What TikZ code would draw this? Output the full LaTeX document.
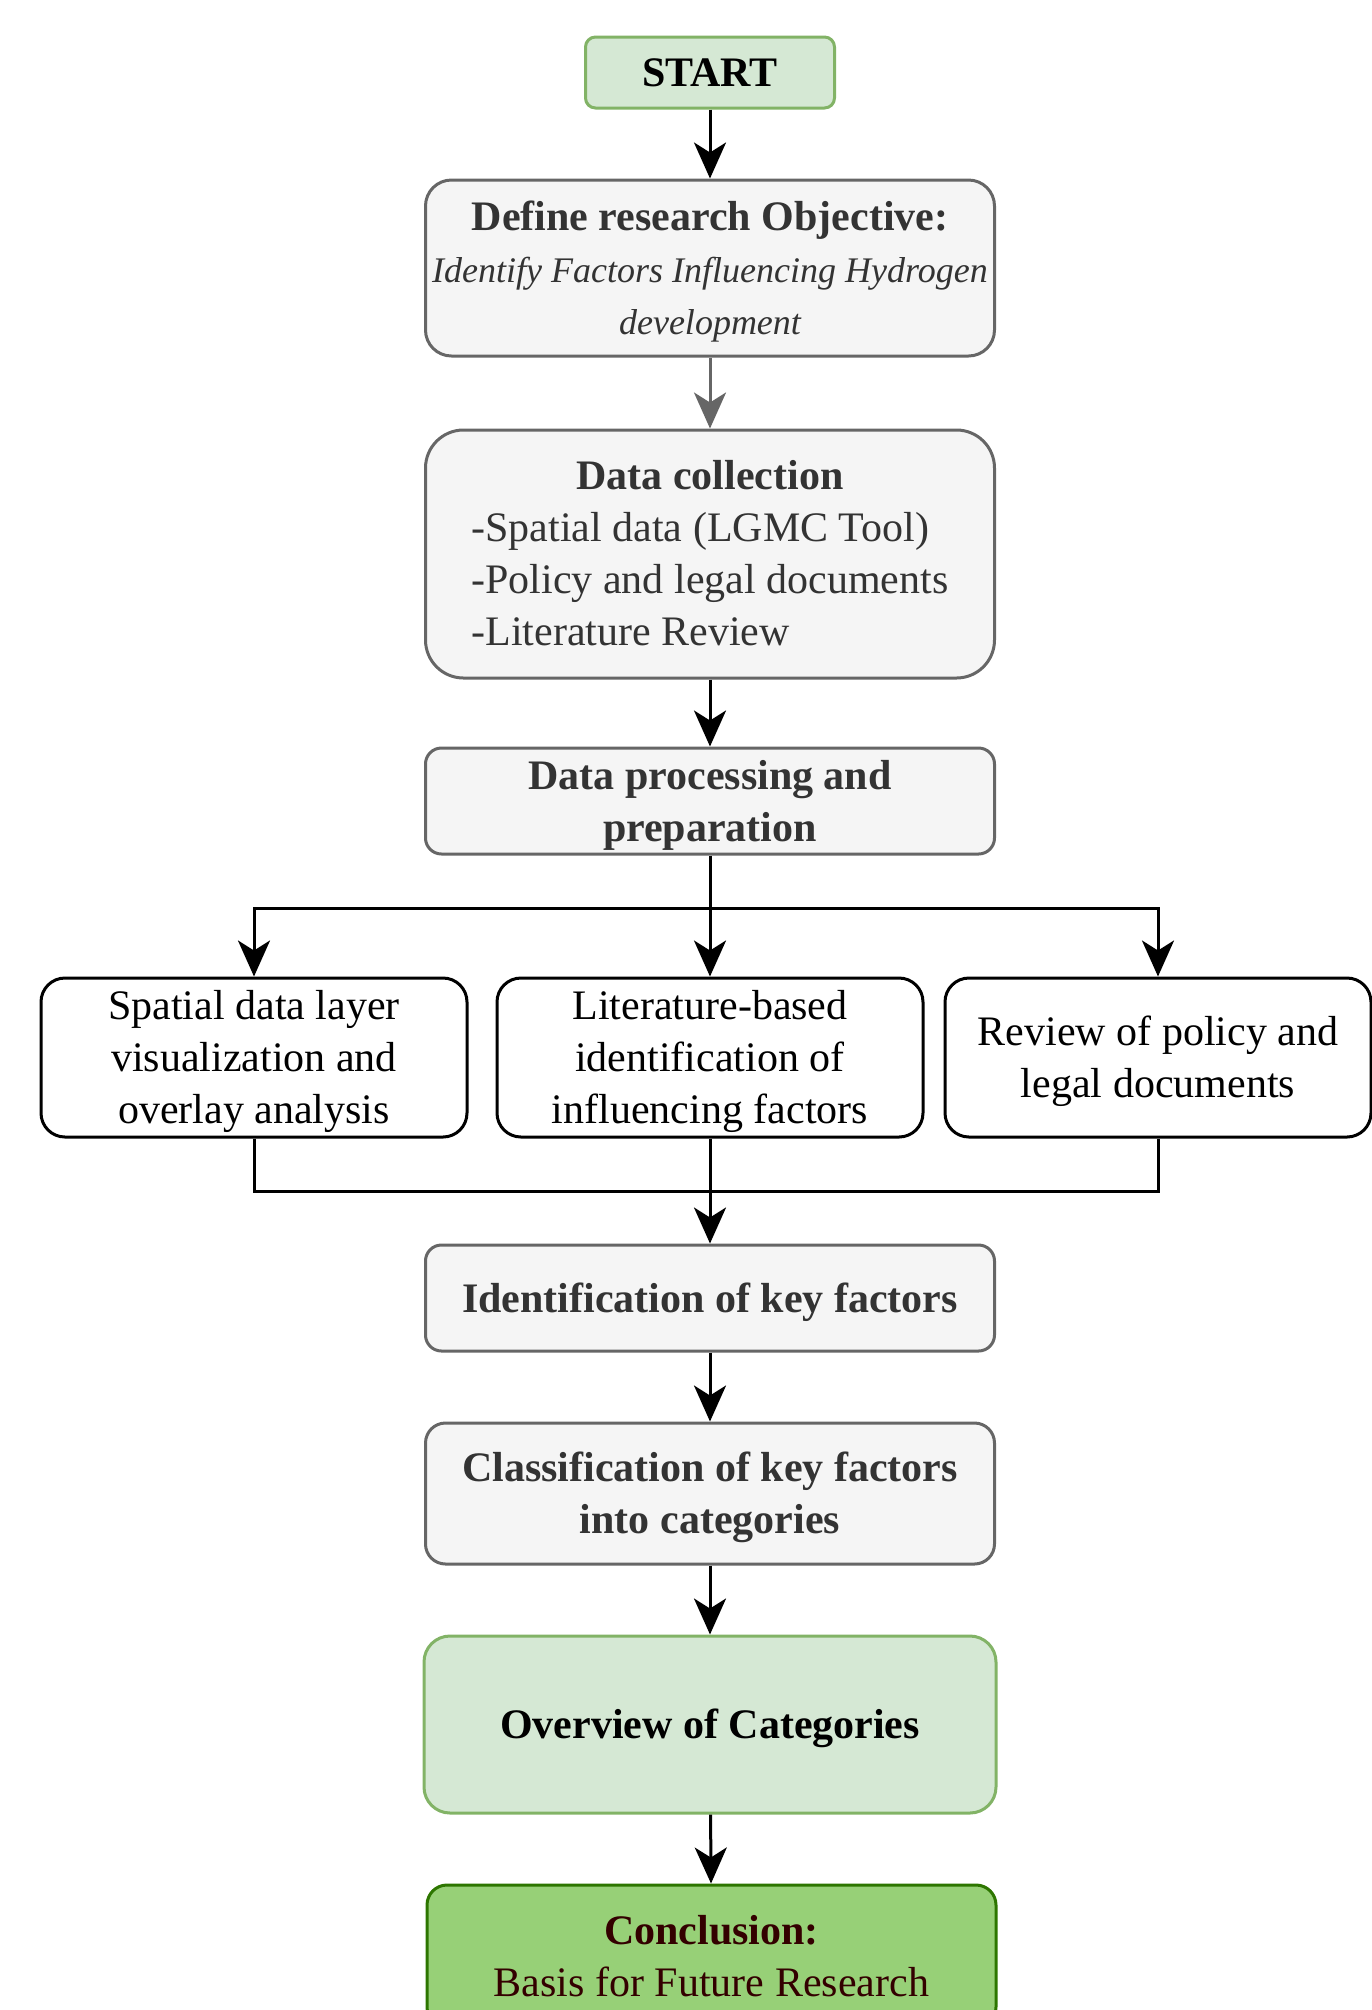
\documentclass[tikz,border=0pt]{standalone}
\usepackage{fontspec}
\setmainfont{Liberation Serif}
\usepackage{tikz}
\usetikzlibrary{positioning,arrows.meta}
\definecolor{lightgreen}{RGB}{213,232,212}
\definecolor{midgreen}{RGB}{130,179,102}
\definecolor{brightgreen}{RGB}{151,208,119}
\definecolor{darkgreen}{RGB}{45,118,0}
\definecolor{boxgrey}{RGB}{245,245,245}
\definecolor{edgegrey}{RGB}{102,102,102}
\definecolor{textgrey}{RGB}{51,51,51}
\definecolor{darkbrown}{RGB}{51,0,0}
\newcommand{\topstrut}{\rule{0pt}{18.7pt}}
\newcommand{\botstrut}{\rule[-4.5pt]{0pt}{4.5pt}}
\newcommand{\smallit}[1]{{\fontsize{18}{26}\selectfont\itshape #1}}

\tikzset{
  base/.style={draw, line width=1.5pt, align=center, inner sep=0pt,
    font=\fontsize{21}{26}\selectfont,
    execute at begin node=\topstrut, execute at end node=\botstrut},
  greybox/.style={base, fill=boxgrey, draw=edgegrey, text=textgrey,
    minimum width=284.5pt},
  whitebox/.style={base, fill=white, draw=black, text=black,
    minimum width=213pt, minimum height=79.5pt, rounded corners=12pt},
  palebox/.style={base, fill=lightgreen, draw=midgreen, text=black},
  flowarrow/.style={line width=1.5pt, -{Stealth[length=18pt,width=16pt,inset=5pt]}},
  flowline/.style={line width=1.5pt}
}

\begin{document}
\begin{tikzpicture}[x=0.5pt, y=-0.5pt]
    \useasboundingbox (0,0) rectangle (1372,2010);
    % main column
    \node[palebox, minimum width=124.5pt, minimum height=35.5pt,
      rounded corners=5pt] (start) at (710,72.5) {\textbf{START}};
    \node[greybox, minimum height=88pt, rounded corners=13pt] (objective) at (710,268)
      {\topstrut\textbf{Define research Objective:}\\
       \smallit{Identify Factors Influencing Hydrogen}\\
       \smallit{development}};
    \node[greybox, minimum height=124pt, rounded corners=19pt] (collect) at (710,554)
      {\begin{tabular}{@{}l@{}}
        \multicolumn{1}{@{}c@{}}{\textbf{Data collection}}\\
        -Spatial data (LGMC Tool)\\
        -Policy and legal documents\\
        -Literature Review\\[-3.3pt]
       \end{tabular}};
    \node[greybox, minimum height=53pt, rounded corners=8pt] (prep) at (710,801)
      {\topstrut\textbf{Data processing and}\\\textbf{preparation}};
    % three branches
    \node[whitebox] (spatial) at (254,1057.5)
      {\topstrut Spatial data layer\\visualization and\\overlay analysis};
    \node[whitebox] (litfactors) at (710,1057.5)
      {\topstrut Literature-based\\identification of\\influencing factors};
    \node[whitebox] (policy) at (1158,1057.5)
      {\topstrut Review of policy and\\legal documents};
    \coordinate (split) at (710,908);
    \coordinate (merge) at (710,1191);
    % lower column
    \node[greybox, minimum height=53pt, rounded corners=8pt] (keyfactors) at (710,1298)
      {\textbf{Identification of key factors}};
    \node[greybox, minimum height=70.5pt, rounded corners=10pt] (classify) at (710,1493.5)
      {\topstrut\textbf{Classification of key factors}\\\textbf{into categories}};
    \node[palebox, minimum width=286pt, minimum height=88.5pt,
      rounded corners=13pt] (overview) at (710,1724.5)
      {\textbf{Overview of Categories}};
    \node[base, fill=brightgreen, draw=darkgreen, text=darkbrown,
      minimum width=284.5pt, minimum height=71pt, rounded corners=10pt]
      (conclusion) at (711.5,1956)
      {\topstrut\textbf{Conclusion:}\\Basis for Future Research};
    % connectors
    \draw[flowarrow] (start) -- (objective);
    \draw[flowarrow, edgegrey] (objective) -- (collect);
    \draw[flowarrow] (collect) -- (prep);
    \draw[flowarrow] (prep) -- (litfactors);
    \draw[flowarrow] (split) -| (spatial);
    \draw[flowarrow] (split) -| (policy);
    \draw[flowline] (spatial.south) |- (merge) -| (policy.south);
    \draw[flowarrow] (litfactors) -- (keyfactors);
    \draw[flowarrow] (keyfactors) -- (classify);
    \draw[flowarrow] (classify) -- (overview);
    \draw[flowarrow] (overview) -- (conclusion);
  \end{tikzpicture}
\end{document}
